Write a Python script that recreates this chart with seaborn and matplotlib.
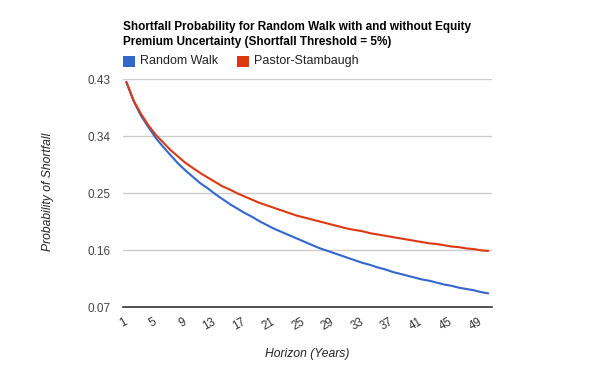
import pandas as pd
import matplotlib
matplotlib.use('Agg')
import matplotlib.pyplot as plt
import seaborn as sns
from matplotlib.patches import Rectangle

sns.set_style('white')
plt.rcParams['font.family'] = ['Liberation Sans', 'DejaVu Sans']

# horizon in years, 1..50
horizon = list(range(1, 51))

random_walk = [0.425, 0.395, 0.372, 0.354, 0.337, 0.323, 0.310, 0.297, 0.286, 0.276,
               0.266, 0.258, 0.249, 0.241, 0.233, 0.226, 0.219, 0.213, 0.206, 0.200,
               0.194, 0.189, 0.184, 0.179, 0.174, 0.169, 0.164, 0.160, 0.156, 0.152,
               0.148, 0.144, 0.140, 0.137, 0.133, 0.130, 0.126, 0.123, 0.120, 0.117,
               0.114, 0.112, 0.109, 0.106, 0.104, 0.101, 0.099, 0.097, 0.094, 0.092]

pastor_stambaugh = [0.426, 0.396, 0.375, 0.357, 0.342, 0.330, 0.318, 0.308, 0.298, 0.290,
                    0.282, 0.275, 0.268, 0.261, 0.256, 0.250, 0.245, 0.240, 0.235, 0.231,
                    0.227, 0.223, 0.219, 0.215, 0.212, 0.209, 0.206, 0.203, 0.200, 0.197,
                    0.194, 0.192, 0.190, 0.187, 0.185, 0.183, 0.181, 0.179, 0.177, 0.175,
                    0.173, 0.171, 0.170, 0.168, 0.166, 0.165, 0.163, 0.162, 0.160, 0.159]

series_names = ['Random Walk', 'Pastor-Stambaugh']
colors = ['#3366cc', '#dc3912']
y_ticks = [0.07, 0.16, 0.25, 0.34, 0.43]
x_ticks = list(range(1, 50, 4))

df = pd.DataFrame({'Horizon': horizon * 2,
                   'Probability': random_walk + pastor_stambaugh,
                   'Series': [series_names[0]] * 50 + [series_names[1]] * 50})

W, H = 600, 371
fig = plt.figure(figsize=(W / 100, H / 100), dpi=100)
ax = fig.add_axes([122.7 / W, 1 - 307.3 / H, (492 - 122.7) / W, (307.3 - 79.3) / H])

sns.lineplot(data=df, x='Horizon', y='Probability', hue='Series', palette=colors,
             linewidth=1.5, ax=ax, legend=False)

ax.set_xlim(0.5, 50.5)
ax.set_ylim(0.07, 0.43)
ax.set_yticks(y_ticks)
ax.set_yticklabels([f'{v:.2f}' for v in y_ticks])
ax.set_xticks(x_ticks)
ax.set_xticklabels([str(v) for v in x_ticks], rotation=30, ha='right',
                   rotation_mode='anchor', va='center')
ax.tick_params(axis='x', length=0, pad=10, labelsize=8.3, labelcolor='#333333')
ax.tick_params(axis='y', length=0, pad=9, labelsize=8.5, labelcolor='#444444')
ax.grid(axis='y', color='#cccccc', linewidth=1)
ax.set_axisbelow(True)
for s in ['top', 'right', 'left']:
    ax.spines[s].set_visible(False)
ax.spines['bottom'].set_color('#333333')
ax.spines['bottom'].set_linewidth(1.2)
ax.set_xlabel('')
ax.set_ylabel('')

fig.text(47.5 / W, 1 - 192 / H, 'Probability of Shortfall', rotation=90, style='italic',
         fontsize=8.7, color='#222222', ha='center', va='center')
fig.text(307.5 / W, 1 - 354 / H, 'Horizon (Years)', style='italic',
         fontsize=8.7, color='#222222', ha='center', va='center')

fig.text(123 / W, 1 - 30 / H, 'Shortfall Probability for Random Walk with and without Equity',
         fontsize=8.5, fontweight='bold', color='black', ha='left', va='baseline')
fig.text(123 / W, 1 - 45.5 / H, 'Premium Uncertainty (Shortfall Threshold = 5%)',
         fontsize=8.5, fontweight='bold', color='black', ha='left', va='baseline')

# legend
for x0, tx, name, c in [(123, 140, series_names[0], colors[0]),
                        (237, 254, series_names[1], colors[1])]:
    fig.add_artist(Rectangle((x0 / W, 1 - 66.7 / H), 12 / W, 11 / H,
                             transform=fig.transFigure, color=c, lw=0))
    fig.text(tx / W, 1 - 61.2 / H, name, fontsize=9, color='#222222',
             ha='left', va='center')

fig.savefig('out.png', dpi=100)
